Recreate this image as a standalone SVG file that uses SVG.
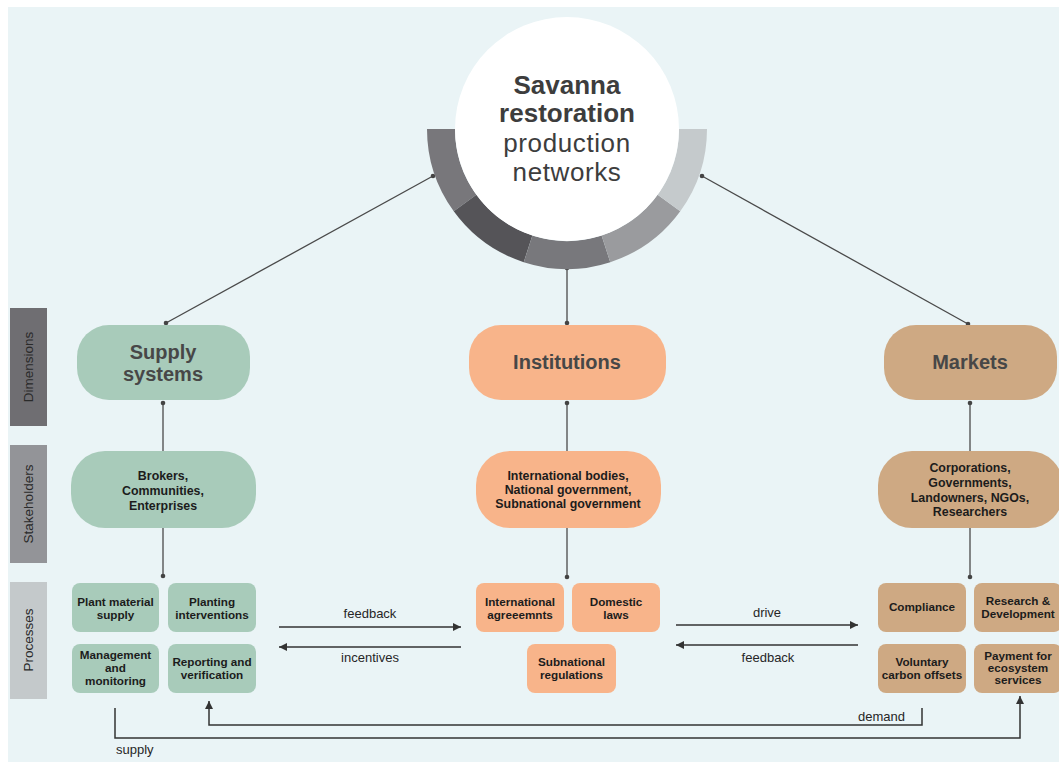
<svg xmlns="http://www.w3.org/2000/svg" width="1059" height="765" viewBox="0 0 1059 765">
<defs>
<style>
text{font-family:"Liberation Sans",Arial,sans-serif;}
.title-b{font-size:26px;font-weight:bold;fill:#3d3d3d;text-anchor:middle;}
.title-r{font-size:26px;fill:#3d3d3d;text-anchor:middle;letter-spacing:0.6px;}
.dim{font-size:20px;font-weight:bold;fill:#474747;text-anchor:middle;}
.stk{font-size:12.4px;font-weight:bold;fill:#1c1c1c;text-anchor:middle;}
.proc{font-size:11.7px;font-weight:bold;fill:#1c1c1c;text-anchor:middle;}
.side{font-size:13.5px;fill:#2a2a2a;text-anchor:middle;}
.lbl{font-size:13px;fill:#262626;}
.green{fill:#A8CBBA;}
.orange{fill:#F8B48A;}
.tan{fill:#CEA983;}
.conn{stroke:#4a4a4a;stroke-width:1.3;fill:none;}
.flow{stroke:#333;stroke-width:1.5;fill:none;}
.dot{fill:#444;}
</style>
<marker id="ah" viewBox="0 0 10 10" refX="10" refY="5" markerWidth="9" markerHeight="8" orient="auto-start-reverse" markerUnits="userSpaceOnUse">
<path d="M0,0 L10,5 L0,10 z" fill="#333"/>
</marker>
</defs>

<rect x="8" y="7" width="1051" height="755" fill="#EAF4F6"/>

<!-- sidebar -->
<g id="sidebar">
<rect x="10" y="308" width="37" height="118" fill="#6f6e72"/>
<text class="side" transform="translate(33,367) rotate(-90)">Dimensions</text>
<rect x="10" y="445" width="37" height="118" fill="#939498"/>
<text class="side" transform="translate(33,504) rotate(-90)">Stakeholders</text>
<rect x="10" y="582" width="37" height="117" fill="#c4c9cb"/>
<text class="side" transform="translate(33,640) rotate(-90)">Processes</text>
</g>

<!-- connectors -->
<g id="connectors">
<line class="conn" x1="433" y1="176" x2="166" y2="323"/>
<line class="conn" x1="567" y1="268" x2="567" y2="323"/>
<line class="conn" x1="702" y1="176" x2="968" y2="324"/>
<circle class="dot" cx="433" cy="176" r="2.3"/>
<circle class="dot" cx="567" cy="268" r="2.3"/>
<circle class="dot" cx="702" cy="176" r="2.3"/>
<circle class="dot" cx="166" cy="323" r="2.3"/>
<circle class="dot" cx="567" cy="323" r="2.3"/>
<circle class="dot" cx="968" cy="324" r="2.3"/>

<line class="conn" x1="163" y1="403" x2="163" y2="451"/>
<line class="conn" x1="567" y1="403" x2="567" y2="451"/>
<line class="conn" x1="970" y1="403" x2="970" y2="451"/>
<circle class="dot" cx="163" cy="403" r="2.3"/>
<circle class="dot" cx="567" cy="403" r="2.3"/>
<circle class="dot" cx="970" cy="403" r="2.3"/>

<line class="conn" x1="163" y1="528" x2="163" y2="576"/>
<line class="conn" x1="567" y1="528" x2="567" y2="577"/>
<line class="conn" x1="970" y1="528" x2="970" y2="577"/>
<circle class="dot" cx="163" cy="576" r="2.3"/>
<circle class="dot" cx="567" cy="577" r="2.3"/>
<circle class="dot" cx="970" cy="577" r="2.3"/>

<line class="flow" x1="279" y1="627" x2="461" y2="627" marker-end="url(#ah)"/>
<line class="flow" x1="461" y1="647" x2="279" y2="647" marker-end="url(#ah)"/>
<text class="lbl" x="370" y="618" text-anchor="middle">feedback</text>
<text class="lbl" x="370" y="662" text-anchor="middle">incentives</text>

<line class="flow" x1="676" y1="625" x2="858" y2="625" marker-end="url(#ah)"/>
<line class="flow" x1="858" y1="645" x2="676" y2="645" marker-end="url(#ah)"/>
<text class="lbl" x="767" y="617" text-anchor="middle">drive</text>
<text class="lbl" x="768" y="662" text-anchor="middle">feedback</text>

<polyline class="flow" points="922,708 922,725 209,725 209,701" marker-end="url(#ah)"/>
<text class="lbl" x="905" y="721" text-anchor="end">demand</text>
<polyline class="flow" points="115,708 115,738 1020,738 1020,696" marker-end="url(#ah)"/>
<text class="lbl" x="116" y="754">supply</text>
</g>

<!-- central hub -->
<g id="hub">
<path d="M453.74,211.29 A140,140 0 0 1 427,129 L455,129 A112,112 0 0 0 476.39,194.83 Z" fill="#78777b"/>
<path d="M523.74,262.15 A140,140 0 0 1 453.74,211.29 L476.39,194.83 A112,112 0 0 0 532.39,235.52 Z" fill="#555458"/>
<path d="M610.26,262.15 A140,140 0 0 1 523.74,262.15 L532.39,235.52 A112,112 0 0 0 601.61,235.52 Z" fill="#78787c"/>
<path d="M680.26,211.29 A140,140 0 0 1 610.26,262.15 L601.61,235.52 A112,112 0 0 0 657.61,194.83 Z" fill="#9a9b9e"/>
<path d="M707,129 A140,140 0 0 1 680.26,211.29 L657.61,194.83 A112,112 0 0 0 679,129 Z" fill="#c5cacc"/>
<circle cx="567" cy="129" r="112" fill="#ffffff"/>
<text class="title-b" x="567" y="94">Savanna</text>
<text class="title-b" x="567" y="122">restoration</text>
<text class="title-r" x="567" y="152">production</text>
<text class="title-r" x="567" y="181">networks</text>
</g>

<!-- dimensions -->
<g id="dim-supply">
<rect class="green" x="77" y="325" width="173" height="75" rx="32"/>
<text class="dim" x="163" y="359">Supply</text>
<text class="dim" x="163" y="381">systems</text>
</g>
<g id="dim-institutions">
<rect class="orange" x="469" y="325" width="197" height="75" rx="32"/>
<text class="dim" x="567" y="369">Institutions</text>
</g>
<g id="dim-markets">
<rect class="tan" x="884" y="325" width="173" height="75" rx="32"/>
<text class="dim" x="970" y="369">Markets</text>
</g>

<!-- stakeholders -->
<g id="stk-supply">
<rect class="green" x="71" y="451" width="185" height="77" rx="34"/>
<text class="stk" x="163" y="480">Brokers,</text>
<text class="stk" x="163" y="495">Communities,</text>
<text class="stk" x="163" y="510">Enterprises</text>
</g>
<g id="stk-institutions">
<rect class="orange" x="476" y="451" width="185" height="77" rx="34"/>
<text class="stk" x="568" y="480">International bodies,</text>
<text class="stk" x="568" y="494">National government,</text>
<text class="stk" x="568" y="508">Subnational government</text>
</g>
<g id="stk-markets">
<rect class="tan" x="878" y="451" width="185" height="77" rx="34"/>
<text class="stk" x="970" y="472">Corporations,</text>
<text class="stk" x="970" y="487">Governments,</text>
<text class="stk" x="970" y="502">Landowners, NGOs,</text>
<text class="stk" x="970" y="516">Researchers</text>
</g>

<!-- processes: supply -->
<g id="proc-plant">
<rect class="green" x="72" y="583" width="87" height="49" rx="8"/>
<text class="proc" x="115.5" y="606">Plant material</text>
<text class="proc" x="115.5" y="619">supply</text>
</g>
<g id="proc-planting">
<rect class="green" x="168" y="583" width="88" height="49" rx="8"/>
<text class="proc" x="212" y="606">Planting</text>
<text class="proc" x="212" y="619">interventions</text>
</g>
<g id="proc-mgmt">
<rect class="green" x="72" y="644" width="87" height="49" rx="8"/>
<text class="proc" x="115.5" y="659">Management</text>
<text class="proc" x="115.5" y="672">and</text>
<text class="proc" x="115.5" y="685">monitoring</text>
</g>
<g id="proc-report">
<rect class="green" x="168" y="644" width="88" height="49" rx="8"/>
<text class="proc" x="212" y="666">Reporting and</text>
<text class="proc" x="212" y="679">verification</text>
</g>

<!-- processes: institutions -->
<g id="proc-intl">
<rect class="orange" x="476" y="583" width="88" height="49" rx="8"/>
<text class="proc" x="520" y="606">International</text>
<text class="proc" x="520" y="619">agreeemnts</text>
</g>
<g id="proc-domestic">
<rect class="orange" x="572" y="583" width="88" height="49" rx="8"/>
<text class="proc" x="616" y="606">Domestic</text>
<text class="proc" x="616" y="619">laws</text>
</g>
<g id="proc-subnat">
<rect class="orange" x="527" y="644" width="89" height="49" rx="8"/>
<text class="proc" x="571.5" y="666">Subnational</text>
<text class="proc" x="571.5" y="679">regulations</text>
</g>

<!-- processes: markets -->
<g id="proc-compliance">
<rect class="tan" x="878" y="583" width="88" height="49" rx="8"/>
<text class="proc" x="922" y="611">Compliance</text>
</g>
<g id="proc-rd">
<rect class="tan" x="974" y="583" width="88" height="49" rx="8"/>
<text class="proc" x="1018" y="605">Research &amp;</text>
<text class="proc" x="1018" y="618">Development</text>
</g>
<g id="proc-voluntary">
<rect class="tan" x="878" y="644" width="88" height="49" rx="8"/>
<text class="proc" x="922" y="666">Voluntary</text>
<text class="proc" x="922" y="679">carbon offsets</text>
</g>
<g id="proc-pes">
<rect class="tan" x="974" y="644" width="88" height="49" rx="8"/>
<text class="proc" x="1018" y="660">Payment for</text>
<text class="proc" x="1018" y="672">ecosystem</text>
<text class="proc" x="1018" y="684">services</text>
</g>
</svg>
